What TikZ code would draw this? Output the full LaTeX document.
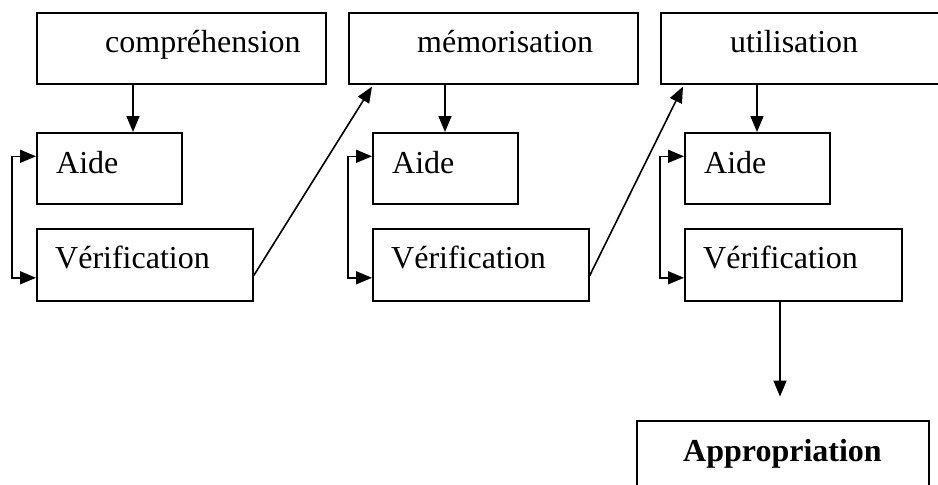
\documentclass[tikz,border=0pt]{standalone}
\usepackage{fontspec}
\setmainfont{Liberation Serif}
\usetikzlibrary{arrows.meta,calc}
\begin{document}
\begin{tikzpicture}[x=1pt,y=-1pt,
  box/.style={draw,line width=1.6pt,anchor=north west,inner sep=0pt},
  txt/.style={anchor=base west,inner sep=0pt,font=\fontsize{32}{38}\selectfont},
  arr/.style={line width=1.6pt,-{Triangle[length=16pt,width=13pt]}},
  darr/.style={line width=1.6pt,{Triangle[length=16pt,width=13pt]}-{Triangle[length=16pt,width=13pt]}}]
\useasboundingbox (0,0) rectangle (938,485);
% column 1
\node[box,minimum width=289pt,minimum height=71pt] (c1) at (36,12) {};
\node[txt] (c1t) at (105,52) {compréhension};
\node[box,minimum width=145pt,minimum height=71pt] (a1) at (36,132) {};
\node[txt] (a1t) at (56,173) {Aide};
\node[box,minimum width=216pt,minimum height=72pt] (v1) at (36,228) {};
\node[txt] (v1t) at (55,268) {Vérification};
% column 2
\node[box,minimum width=289pt,minimum height=71pt] (c2) at (348,12) {};
\node[txt] (c2t) at (417,52) {mémorisation};
\node[box,minimum width=145pt,minimum height=71pt] (a2) at (372,132) {};
\node[txt] (a2t) at (392,173) {Aide};
\node[box,minimum width=216pt,minimum height=72pt] (v2) at (372,228) {};
\node[txt] (v2t) at (391,268) {Vérification};
% column 3
\node[box,minimum width=290pt,minimum height=71pt] (c3) at (660,12) {};
\node[txt] (c3t) at (730,52) {utilisation};
\node[box,minimum width=145pt,minimum height=71pt] (a3) at (684,132) {};
\node[txt] (a3t) at (704,173) {Aide};
\node[box,minimum width=217pt,minimum height=72pt] (v3) at (684,228) {};
\node[txt] (v3t) at (703,268) {Vérification};
% final
\node[box,minimum width=292pt,minimum height=80pt] (ap) at (636,420) {};
\node[txt,font=\fontsize{32}{38}\selectfont\bfseries] (apt) at (683,461) {Appropriation};
% down arrows
\foreach \c/\a in {c1/a1,c2/a2,c3/a3}{
  \draw[arr] ($(\c.south west)+(97,0)$) coordinate (t\c) -- (t\c |- \a.north);
}
% loops
\foreach \a/\v in {a1/v1,a2/v2,a3/v3}{
  \draw[darr] ($(\a.west)+(0,-12)$) -- ++(-24,0) |- ($(\v.west)+(0,13)$);
}
% diagonals
\draw[arr] ($(v1.east)+(0,11)$) -- ($(c2.south west)+(24,2)$);
\draw[arr] ($(v2.east)+(0,11)$) -- ($(c3.south west)+(23,2)$);
% final arrow
\coordinate (endp) at ($(v3.south west)+(96,95)$);
\draw[arr] ($(v3.south west)+(96,0)$) -- (endp);
\end{tikzpicture}
\end{document}
